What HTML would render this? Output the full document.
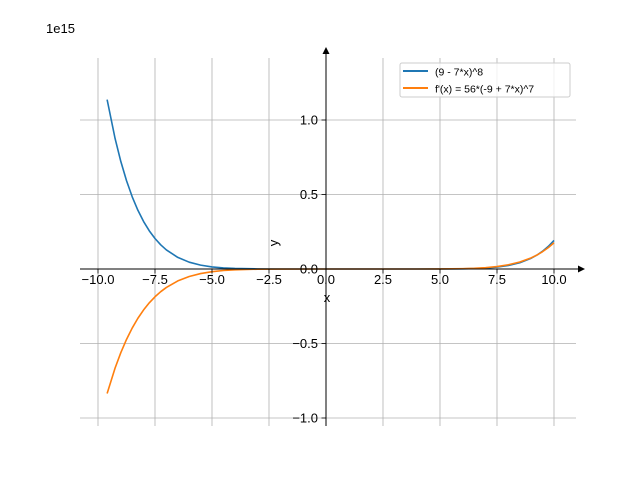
<!DOCTYPE html>
<html><head><meta charset="utf-8"><style>
body{margin:0;background:#fff}
svg{font-family:"Liberation Sans","DejaVu Sans",sans-serif}
</style></head><body>
<svg id="chart" width="640" height="480" viewBox="0 0 640 480">
<rect width="640" height="480" fill="#fff"/>
<g id="grid"></g>
<g id="series"></g>
<g id="axes"></g>
<text x="46" y="33" font-size="13">1e15</text>
<text x="327" y="302" font-size="13" text-anchor="middle">x</text>
<text x="278" y="243" font-size="13" text-anchor="middle" transform="rotate(-90 278 243)">y</text>
<g>
<rect x="400" y="63" width="170" height="34" rx="2" fill="#fff" fill-opacity="0.8" stroke="#ccc"/>
<line x1="403" y1="71" x2="428" y2="71" stroke="#1f77b4" stroke-width="2"/>
<text x="435" y="75.5" font-size="10.5">(9 - 7*x)^8</text>
<line x1="403" y1="88" x2="428" y2="88" stroke="#ff7f0e" stroke-width="2"/>
<text x="435" y="92.5" font-size="10.5">f'(x) = 56*(-9 + 7*x)^7</text>
</g>
</svg>
<script>
const xs = [-9.6,-9.25,-9,-8.75,-8.5,-8.25,-8,-7.75,-7.5,-7.25,-7,-6.5,-6,-5.5,-5,-4.5,-4,-3,-2,0,2,4,5,6,6.5,7,7.5,8,8.5,9,9.25,9.5,9.75,10];
const fVals = [1.1367,0.8752,0.7222,0.5932,0.4848,0.3941,0.3186,0.2561,0.2047,0.1624,0.1281,0.0778,0.0458,0.0259,0.0140,0.00724,0.00351,0.00066,0.00008,0,0,0.000017,0.00021,0.0014,0.00315,0.00655,0.0128,0.0238,0.0423,0.0723,0.0933,0.1195,0.1519,0.1917];
const dVals = [-0.8354,-0.6646,-0.5617,-0.4729,-0.3963,-0.3306,-0.2745,-0.2268,-0.1864,-0.1522,-0.1237,-0.0800,-0.0503,-0.0306,-0.0179,-0.0100,-0.0053,-0.00122,-0.0002,0,0,0.00005,0.00045,0.0024,0.00483,0.00918,0.0165,0.0284,0.0469,0.0750,0.0937,0.1164,0.1436,0.1760];
const xTicks = [-10,-7.5,-5,-2.5,0,2.5,5,7.5,10];
const xTickLabels = ["−10.0","−7.5","−5.0","−2.5","0.0","2.5","5.0","7.5","10.0"];
const yTicks = [-1,-0.5,0,0.5,1];
const yTickLabels = ["−1.0","−0.5","0.0","0.5","1.0"];

const NS="http://www.w3.org/2000/svg";
const L=80,R=576,T=58,B=426;
const sx=v=>326+v*22.8;
const sy=v=>269-v*149;
function mk(tag,attrs,parent){const e=document.createElementNS(NS,tag);for(const k in attrs)e.setAttribute(k,attrs[k]);parent.appendChild(e);return e;}
const grid=document.getElementById('grid'),axes=document.getElementById('axes'),series=document.getElementById('series');
xTicks.forEach((t,i)=>{
  const g=mk('line',{x1:sx(t),x2:sx(t),y1:T,y2:B,stroke:'#b0b0b0','stroke-width':0.8},grid);
  
  
  const tk=mk('line',{x1:sx(t),x2:sx(t),y1:269,y2:273.5,stroke:'#000','stroke-width':0.8},axes);
  
  
  const tx=mk('text',{x:sx(t),y:284,'font-size':13,'text-anchor':'middle'},axes);
  tx.textContent=xTickLabels[i];
  
  
});
yTicks.forEach((t,i)=>{
  const g=mk('line',{x1:L,x2:R,y1:sy(t),y2:sy(t),stroke:'#b0b0b0','stroke-width':0.8},grid);
  
  
  const tk=mk('line',{x1:321.5,x2:326,y1:sy(t),y2:sy(t),stroke:'#000','stroke-width':0.8},axes);
  
  
  const tx=mk('text',{x:318,y:sy(t)+4.5,'font-size':13,'text-anchor':'end'},axes);
  tx.textContent=yTickLabels[i];
  
  
});
const xa=mk('line',{x1:L,x2:582,y1:269,y2:269,stroke:'#000','stroke-width':1},axes);


const xarr=mk('path',{d:'M585 269 L578 265.5 L578 272.5 Z',fill:'#000'},axes);


const ya=mk('line',{x1:326,x2:326,y1:52,y2:B,stroke:'#000','stroke-width':1},axes);


const yarr=mk('path',{d:'M326 47 L322.5 54 L329.5 54 Z',fill:'#000'},axes);


function line(vals,color,name){
  const pts=xs.map((x,i)=>sx(x).toFixed(2)+','+sy(vals[i]).toFixed(2)).join(' ');
  const p=mk('polyline',{points:pts,fill:'none',stroke:color,'stroke-width':1.6,'stroke-linejoin':'round'},series);
  
  
}
line(fVals,'#1f77b4','series-f');
line(dVals,'#ff7f0e','series-derivative');
</script>
</body></html>
